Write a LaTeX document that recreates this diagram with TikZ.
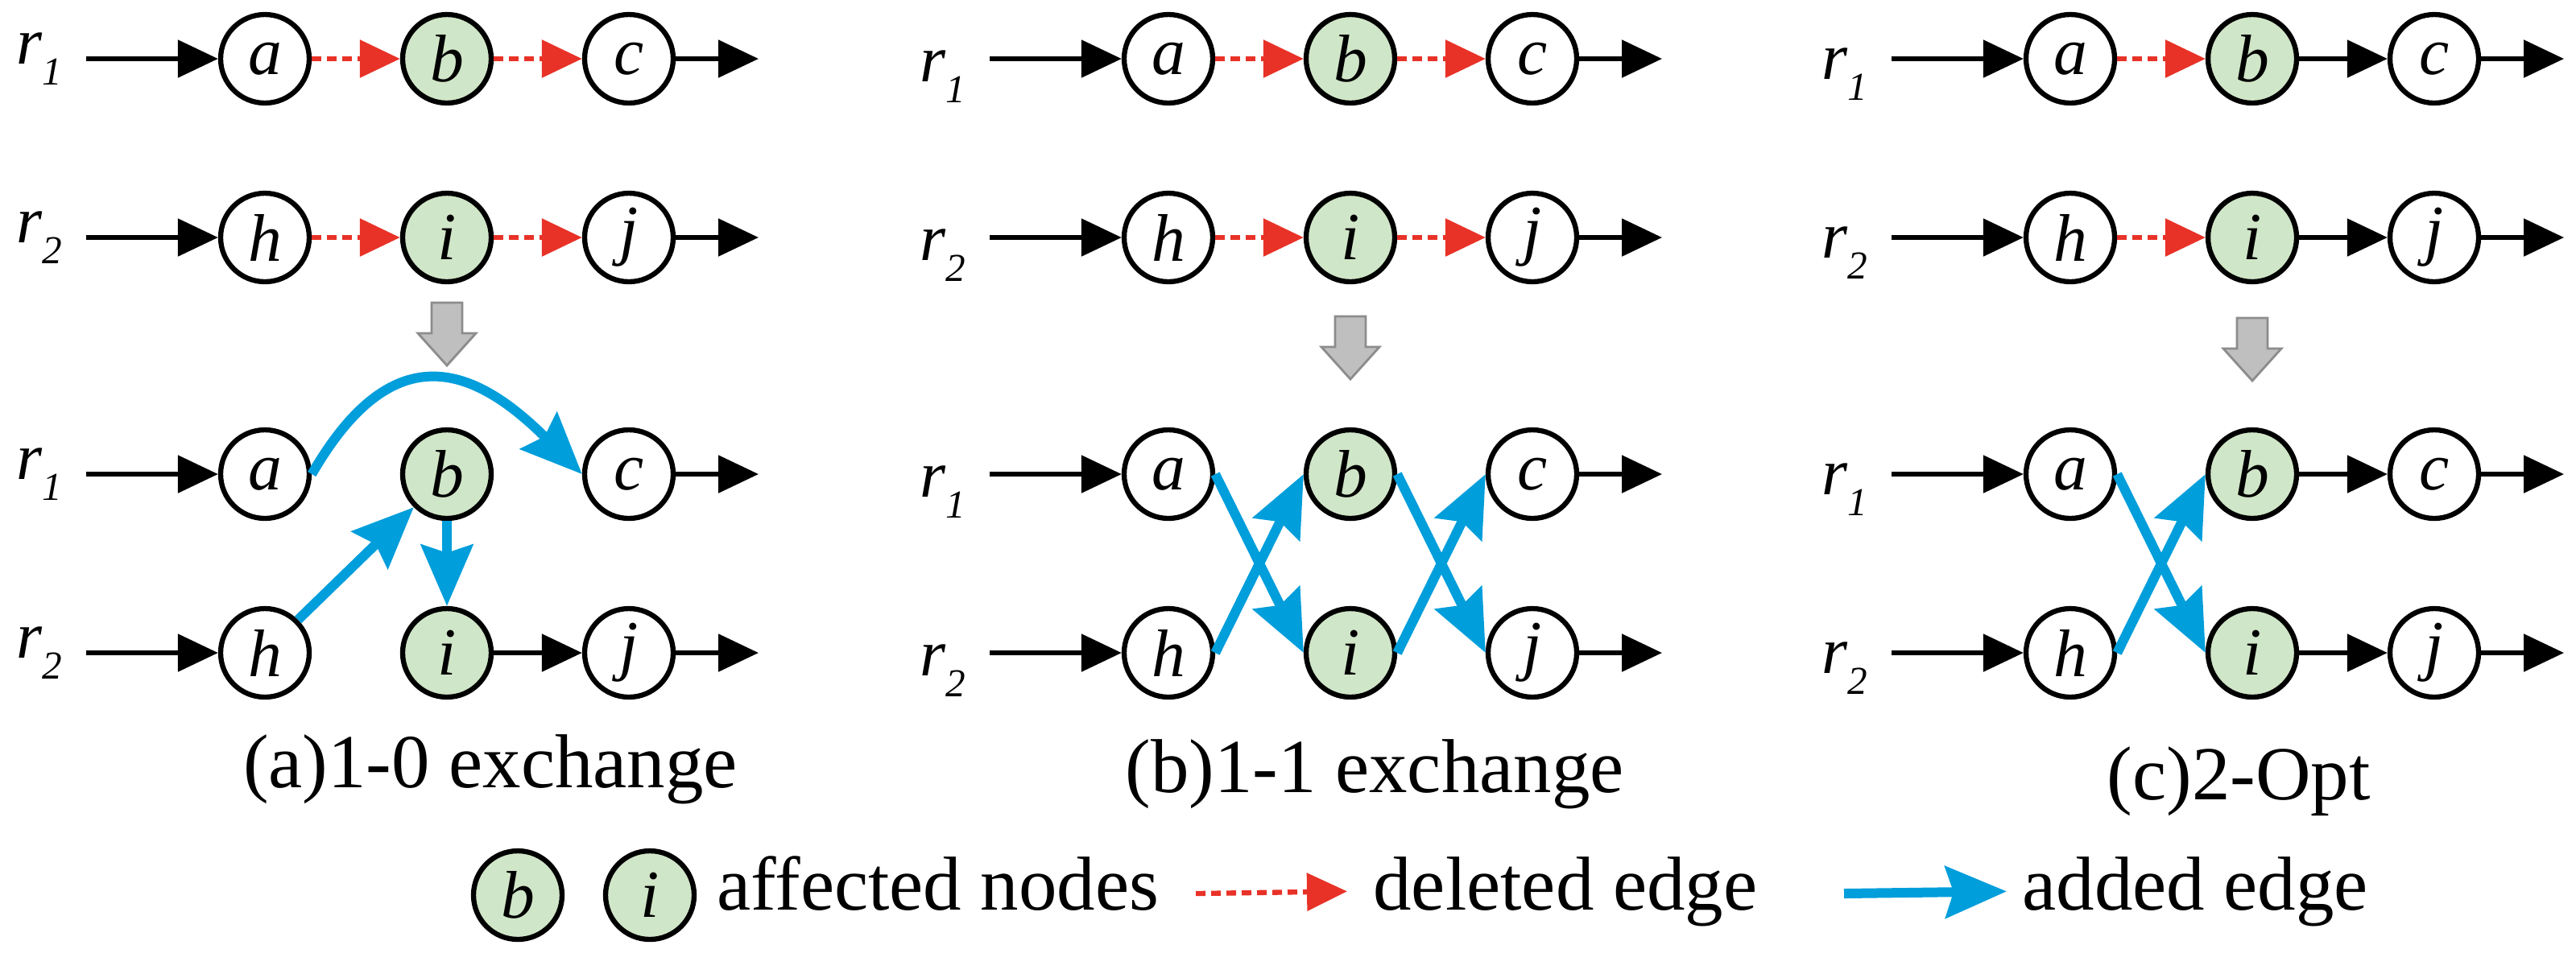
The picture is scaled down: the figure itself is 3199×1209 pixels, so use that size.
\documentclass[tikz,border=0pt]{standalone}
\usepackage{fontspec}
\setmainfont{Liberation Serif}
\newfontfamily\timesfont{Liberation Serif}
\usetikzlibrary{arrows.meta}

\definecolor{nodegreen}{RGB}{208,230,200}
\definecolor{delred}{RGB}{232,50,40}
\definecolor{addblue}{RGB}{0,158,219}

\tikzset{
  vertex/.style={circle, draw, line width=0.9pt, minimum size=5.5mm, inner sep=0pt,
    font=\timesfont\fontsize{11.9}{12}\selectfont\itshape},
  affected/.style={vertex, fill=nodegreen},
  route/.style={line width=0.8pt, -{Triangle[length=2.5mm,width=2.3mm]}},
  deleted/.style={delred, line width=0.9pt, dash pattern=on 0.6mm off 0.35mm,
    -{Triangle[length=2.5mm,width=2.3mm]}},
  added/.style={addblue, line width=0.6mm, -{Stealth[length=3.8mm,width=3.2mm,inset=0.5mm]}},
  rlabel/.style={inner sep=0pt, font=\timesfont\fontsize{11.7}{12}\selectfont\itshape},
  caption/.style={anchor=base, inner sep=0pt, font=\timesfont\fontsize{13.5}{14}\selectfont},
  legend/.style={anchor=base west, inner sep=0pt, font=\timesfont\fontsize{13.5}{14}\selectfont},
}

\newcommand{\routelabel}[1]{r\raisebox{-0.32em}{\fontsize{7}{7}\selectfont #1}}

\begin{document}
\begin{tikzpicture}[x=0.05mm, y=-0.05mm]
\useasboundingbox (0,0) rectangle (3199,1209);

% routes before (u) and after (d) the move
\foreach \p/\x/\ly/\gy in {A/329/0/376, B/1451/22/393, C/2571/19/395} {
  \foreach \s/\y in {u/73, d/589} {
    \node[vertex]   (\p-\s-a) at (\x,\y) {a};
    \node[affected] (\p-\s-b) at (\x+226,\y) {b};
    \node[vertex]   (\p-\s-c) at (\x+452,\y) {c};
    \node[vertex]   (\p-\s-h) at (\x,\y+222) {h};
    \node[affected] (\p-\s-i) at (\x+226,\y+222) {i};
    \node[vertex]   (\p-\s-j) at (\x+452,\y+222) {j};
    \node[rlabel] (\p-\s-r1) at (\x-280,\y+\ly) {\routelabel{1}};
    \node[rlabel] (\p-\s-r2) at (\x-280,\y+222+\ly) {\routelabel{2}};
    \coordinate (\p-\s-in1) at (\x-222,\y);
    \coordinate (\p-\s-in2) at (\x-222,\y+222);
    \coordinate (\p-\s-out1) at (\x+613,\y);
    \coordinate (\p-\s-out2) at (\x+613,\y+222);
    \draw[route] (\p-\s-in1) -- (\p-\s-a);
    \draw[route] (\p-\s-in2) -- (\p-\s-h);
    \draw[route] (\p-\s-c) -- (\p-\s-out1);
    \draw[route] (\p-\s-j) -- (\p-\s-out2);
  }
  % gray step arrow
  \draw[fill=black!25, draw=black!45, line width=0.4pt] (\x+207,\gy) -- ++(38,0) -- ++(0,38)
    -- ++(17,0) -- ++(-36,40) -- ++(-36,-40) -- ++(17,0) -- cycle;
}

% deleted edges
\foreach \p in {A,B} {
  \draw[deleted] (\p-u-a) -- (\p-u-b);
  \draw[deleted] (\p-u-b) -- (\p-u-c);
  \draw[deleted] (\p-u-h) -- (\p-u-i);
  \draw[deleted] (\p-u-i) -- (\p-u-j);
}
\draw[deleted] (C-u-a) -- (C-u-b);
\draw[route] (C-u-b) -- (C-u-c);
\draw[deleted] (C-u-h) -- (C-u-i);
\draw[route] (C-u-i) -- (C-u-j);

% (a) 1-0 exchange
\draw[added] (A-d-a.east) to[out=60, in=135, looseness=1.5] (A-d-c.west);
\draw[added] (A-d-h.north east) -- (A-d-b.south west);
\draw[added] (A-d-b) -- (A-d-i);
\draw[route] (A-d-i) -- (A-d-j);

% (b) 1-1 exchange
\draw[added] (B-d-a.east) -- (B-d-i.west);
\draw[added] (B-d-h.east) -- (B-d-b.west);
\draw[added] (B-d-b.east) -- (B-d-j.west);
\draw[added] (B-d-i.east) -- (B-d-c.west);

% (c) 2-Opt
\draw[added] (C-d-a.east) -- (C-d-i.west);
\draw[added] (C-d-h.east) -- (C-d-b.west);
\draw[route] (C-d-b) -- (C-d-c);
\draw[route] (C-d-i) -- (C-d-j);

\node[caption] (capA) at (609,978) {(a)1-0 exchange};
\node[caption] (capB) at (1707,984) {(b)1-1 exchange};
\node[caption] (capC) at (2780,993) {(c)2-Opt};

% legend
\node[affected] (keyb) at (643,1112) {b};
\node[affected] (keyi) at (807,1112) {i};
\node[legend] (keyaff) at (889,1130) {affected nodes};
\coordinate (keydel) at (1485,1110);
\node[legend] (keydeltxt) at (1704,1130) {deleted edge};
\draw[deleted] (keydel) -- ([xshift=-1.55mm]keydeltxt.west);
\coordinate (keyadd) at (2290,1110);
\node[legend] (keyaddtxt) at (2510,1130) {added edge};
\draw[added] (keyadd) -- ([xshift=-0.9mm]keyaddtxt.west);

\end{tikzpicture}
\end{document}
